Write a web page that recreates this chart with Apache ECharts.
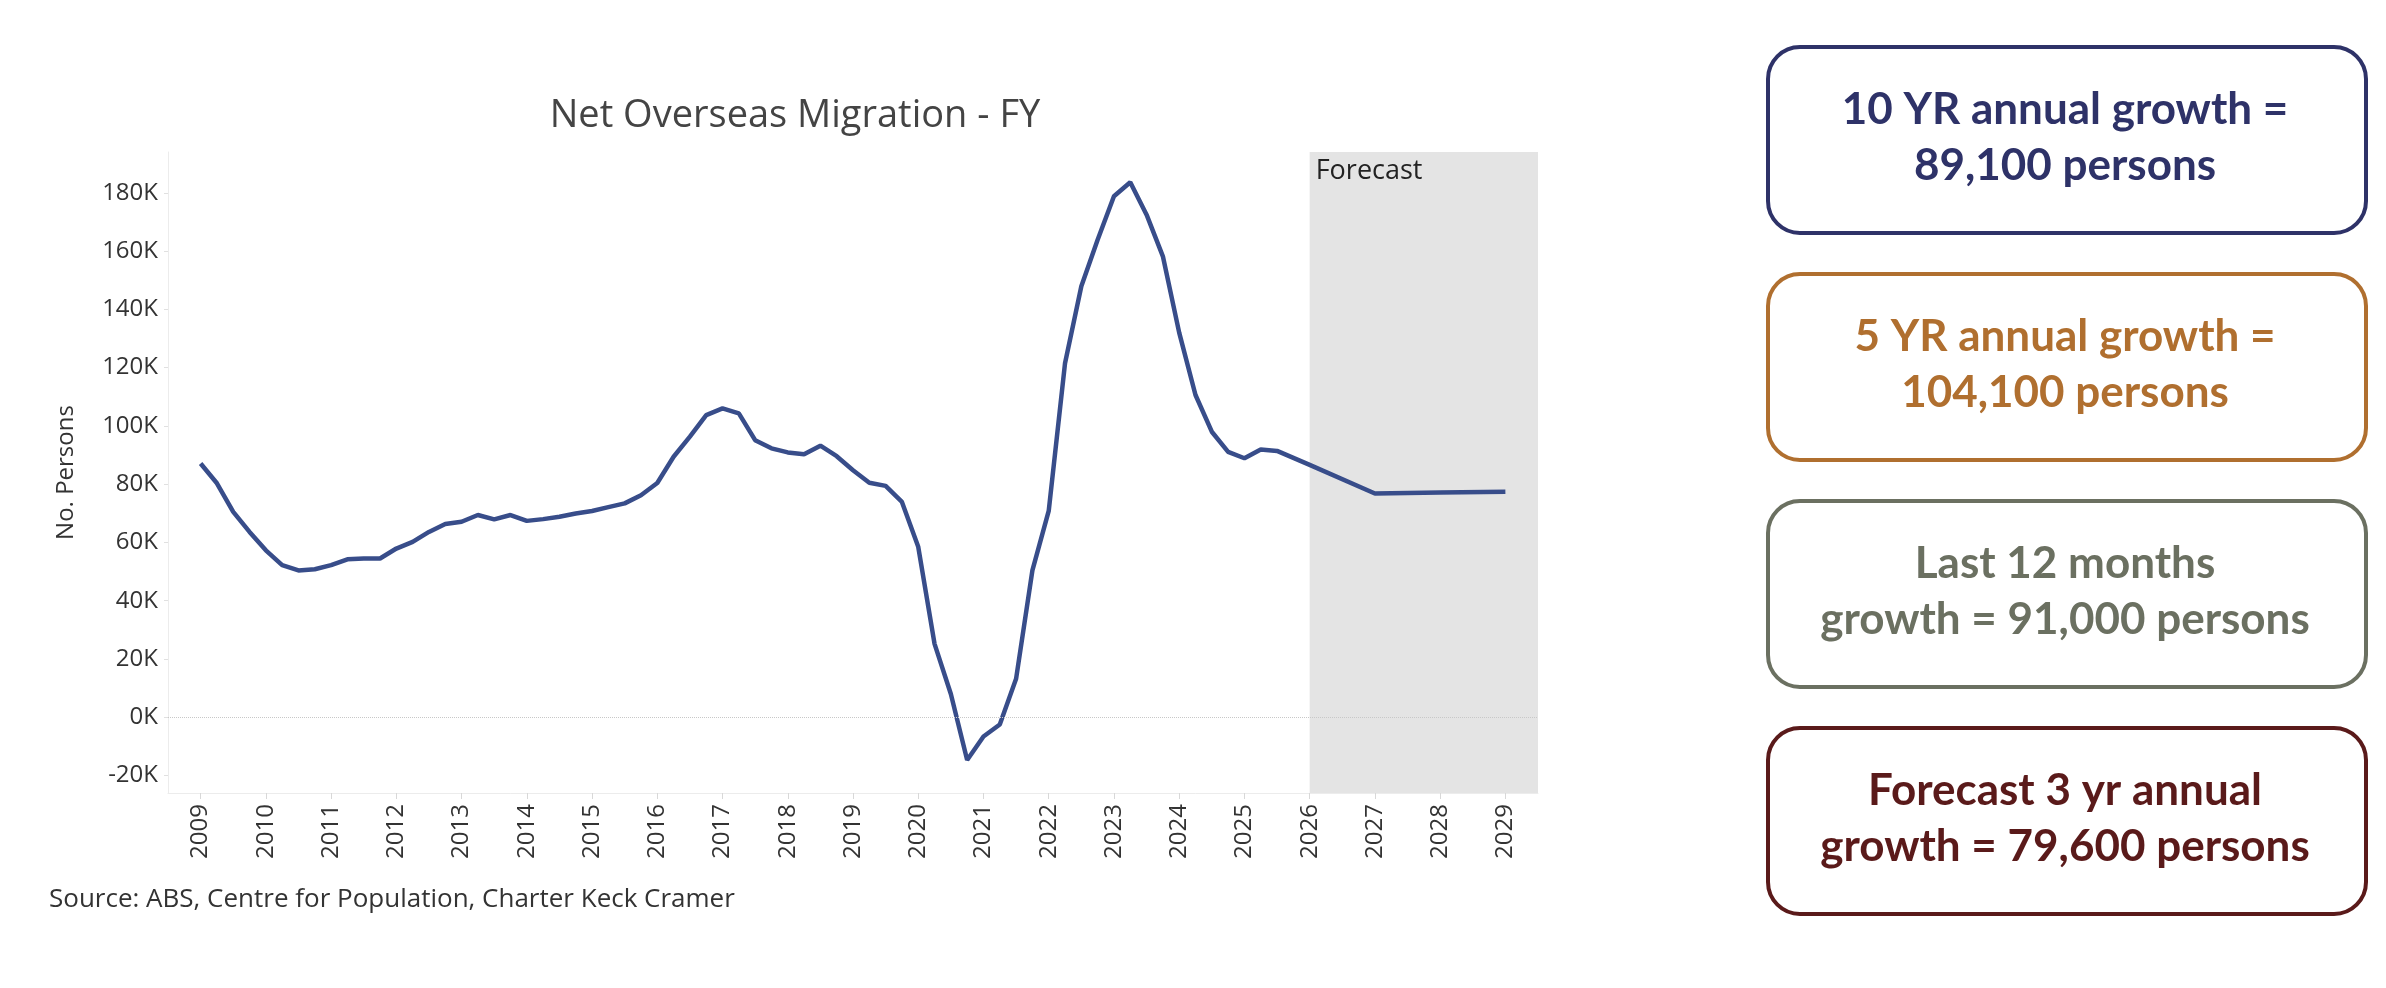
<!DOCTYPE html>
<html>
<head>
<meta charset="utf-8">
<script src="https://cdn.jsdelivr.net/npm/echarts@6/dist/echarts.min.js"></script>
<style>
	html, body { margin: 0; padding: 0; background: #fff; }
	#chart { width: 2386px; height: 988px; }
</style>
</head>
<body>
<div id="chart"></div>
<script>
// quarterly actuals to mid 2025, then annual forecast points
var periods = [
	2009.0, 2009.25, 2009.5, 2009.75, 2010.0, 2010.25, 2010.5, 2010.75,
	2011.0, 2011.25, 2011.5, 2011.75, 2012.0, 2012.25, 2012.5, 2012.75,
	2013.0, 2013.25, 2013.5, 2013.75, 2014.0, 2014.25, 2014.5, 2014.75,
	2015.0, 2015.25, 2015.5, 2015.75, 2016.0, 2016.25, 2016.5, 2016.75,
	2017.0, 2017.25, 2017.5, 2017.75, 2018.0, 2018.25, 2018.5, 2018.75,
	2019.0, 2019.25, 2019.5, 2019.75, 2020.0, 2020.25, 2020.5, 2020.75,
	2021.0, 2021.25, 2021.5, 2021.75, 2022.0, 2022.25, 2022.5, 2022.75,
	2023.0, 2023.25, 2023.5, 2023.75, 2024.0, 2024.25, 2024.5, 2024.75,
	2025.0, 2025.25, 2025.5, 2026.0, 2027.0, 2028.0, 2029.0
];
var netMigration = [
	87100, 80300, 70500, 63600, 57300, 52200, 50400, 50800,
	52200, 54200, 54500, 54500, 57900, 60200, 63600, 66300,
	67100, 69400, 67900, 69400, 67400, 68000, 68800, 69900,
	70800, 72100, 73400, 76200, 80400, 89400, 96300, 103700,
	106000, 104300, 95100, 92300, 90900, 90300, 93200, 89600,
	84800, 80500, 79400, 73900, 58500, 25200, 8000, -14700,
	-6600, -2500, 13200, 50400, 70800, 121500, 147900, 163900,
	178800, 183600, 172500, 158200, 132000, 110600, 98000, 91100,
	88900, 91900, 91400, 86600, 76800, 77100, 77400
];
var yearTicks = [2009, 2010, 2011, 2012, 2013, 2014, 2015, 2016, 2017, 2018, 2019,
	2020, 2021, 2022, 2023, 2024, 2025, 2026, 2027, 2028, 2029];
var valueTicks = [-20000, 0, 20000, 40000, 60000, 80000, 100000, 120000, 140000, 160000, 180000];
var forecastStart = 2026;

var boxes = [
	{ lines: ['10 YR annual growth =', '89,100 persons'], color: '#2e3268' },
	{ lines: ['5 YR annual growth =', '104,100 persons'], color: '#b06f2f' },
	{ lines: ['Last 12 months', 'growth = 91,000 persons'], color: '#6b7061' },
	{ lines: ['Forecast 3 yr annual', 'growth = 79,600 persons'], color: '#5a1a1a' }
];

var font = 'Open Sans';

var graphics = [];
boxes.forEach(function (b, i) {
	var top = 45 + i * 227;
	graphics.push({
		type: 'rect',
		left: 1766, top: top,
		shape: { width: 598, height: 186, r: 32 },
		style: { fill: '#fff', stroke: b.color, lineWidth: 4 }
	});
	graphics.push({
		type: 'text',
		style: {
			text: b.lines.join('\n'),
			x: 2065, y: top + 93,
			align: 'center', verticalAlign: 'middle',
			fill: b.color,
			font: 'bold 44px Lato',
			lineHeight: 56
		}
	});
});
graphics.push({
	type: 'text',
	style: {
		text: 'Source: ABS, Centre for Population, Charter Keck Cramer',
		x: 49, y: 900,
		verticalAlign: 'middle',
		fill: '#333',
		font: '26px ' + font
	}
});

var chart = echarts.init(document.getElementById('chart'));
chart.setOption({
	animation: false,
	title: {
		text: 'Net Overseas Migration - FY',
		left: 790,
		top: 92,
		textAlign: 'center',
		textStyle: { fontFamily: font, fontWeight: 'normal', fontSize: 38, color: '#444' }
	},
	grid: { left: 168, right: 848, top: 152, bottom: 195 },
	xAxis: {
		type: 'value',
		min: 2008.5,
		max: 2029.5,
		axisLine: { show: true, onZero: false, lineStyle: { color: '#ececec', width: 1 } },
		axisTick: { show: true, customValues: yearTicks, length: 6, lineStyle: { color: '#d8d8d8' } },
		axisLabel: {
			customValues: yearTicks,
			rotate: 90,
			margin: 11,
			fontFamily: font,
			fontSize: 24,
			color: '#333',
			formatter: function (v) { return String(v); }
		},
		splitLine: { show: false }
	},
	yAxis: {
		type: 'value',
		min: -26000,
		max: 194000,
		name: 'No. Persons',
		nameLocation: 'middle',
		nameGap: 90,
		nameTextStyle: { fontFamily: font, fontSize: 24, color: '#333' },
		axisLine: { show: true, lineStyle: { color: '#ececec', width: 1 } },
		axisTick: { show: true, customValues: valueTicks, length: 4, lineStyle: { color: '#e0e0e0' } },
		axisLabel: {
			customValues: valueTicks,
			margin: 10,
			fontFamily: font,
			fontSize: 24,
			color: '#333',
			formatter: function (v) { return (v / 1000) + 'K'; }
		},
		splitLine: { show: false }
	},
	series: [{
		type: 'line',
		data: periods.map(function (p, i) { return [p, netMigration[i]]; }),
		showSymbol: false,
		lineStyle: { color: '#384d8a', width: 4.5 },
		itemStyle: { color: '#384d8a' },
		z: 3,
		markArea: {
			silent: true,
			itemStyle: { color: '#e4e4e4' },
			label: {
				show: true,
				position: 'insideTopLeft',
				distance: 6,
				color: '#222',
				fontFamily: font,
				fontSize: 27
			},
			data: [[{ name: 'Forecast', xAxis: forecastStart }, { xAxis: 2029.5 }]]
		},
		markLine: {
			silent: true,
			symbol: 'none',
			label: { show: false },
			lineStyle: { color: '#c8c8c8', type: 'dotted', width: 1 },
			data: [{ yAxis: 0 }]
		}
	}],
	graphic: graphics
});
</script>
</body>
</html>
